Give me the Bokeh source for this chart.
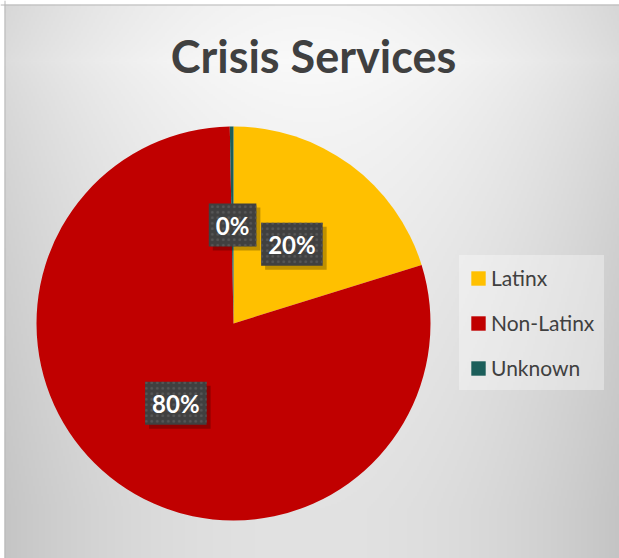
import numpy as np
from bokeh.plotting import figure
from bokeh.models import ColumnDataSource, Range1d, Label, Span
from bokeh.core.properties import value
from bokeh.embed import file_html
from bokeh.resources import INLINE

# ---- data ----
title = "Crisis Services"
categories = ["Latinx", "Non-Latinx", "Unknown"]
shares = [20.2, 79.5, 0.3]
colors = ["#FFC000", "#C00000", "#1B5E5A"]

# ---- layout (pixel based data space, y measured from the top via ry) ----
W, H = 619, 558
def ry(y):
    return H - y

CX, CY, R = 233, ry(323), 197

frac = np.array(shares) / np.sum(shares)
cum = np.cumsum(frac)
start = np.pi / 2 - 2 * np.pi * cum
end = np.pi / 2 - 2 * np.pi * (cum - frac)
mid = np.pi / 2 - 2 * np.pi * (cum - frac / 2)
labels = [f"{100 * f:.0f}%" for f in frac]

src = ColumnDataSource(dict(
    category=categories, color=colors, start=start, end=end,
    lx=CX + 0.5 * R * np.cos(mid), ly=CY + 0.5 * R * np.sin(mid), lab=labels,
))

p = figure(width=W, height=H, x_range=Range1d(0, W), y_range=Range1d(0, H),
           output_backend="svg", toolbar_location=None, min_border=0,
           background_fill_color="white", border_fill_color="white")
p.axis.visible = False
p.grid.visible = False
p.outline_line_color = None

# background gradient inside the chart frame (frame starts at x=4, y=4)
FX, FY = 4, 4
nx, ny = 308, 277
xs = np.linspace(FX, W, nx)
ys = np.linspace(0, ry(FY), ny)
XX, YY = np.meshgrid(xs, ys)
YR = H - YY
v = 250 - 26 * ((XX - 310) / 290) ** 2 - 24 * np.clip(np.abs(YR - 60) / 450, 0, 1) ** 0.7
v = np.clip(v, 0, 255).astype(np.uint8)
img = np.empty((ny, nx), dtype=np.uint32)
view = img.view(dtype=np.uint8).reshape((ny, nx, 4))
view[:, :, 0] = v
view[:, :, 1] = v
view[:, :, 2] = v
view[:, :, 3] = 255
p.image_rgba(image=[img], x=FX, y=0, dw=W - FX, dh=ry(FY))

p.add_layout(Span(location=FX + 0.5, dimension="height", line_color="#b8b8b8", line_width=1))
p.add_layout(Span(location=ry(FY + 0.5), dimension="width", line_color="#b8b8b8", line_width=1))

p.wedge(x=CX, y=CY, radius=R, start_angle="start", end_angle="end",
        direction="anticlock", fill_color="color", line_color=None,
        legend_field="category", source=src)

# data label shadows
p.text(x="lx", y="ly", text="lab", source=src, text_align="center", text_baseline="middle",
       text_font=value("Lato"), text_font_style="bold", text_font_size="24px",
       text_alpha=0, background_fill_color="black", background_fill_alpha=0.25,
       padding=7, x_offset=4, y_offset=4)
# data labels
p.text(x="lx", y="ly", text="lab", source=src, text_align="center", text_baseline="middle",
       text_font=value("Lato"), text_font_style="bold", text_font_size="24px",
       text_color="white", background_fill_color="#404040",
       background_hatch_pattern="dot", background_hatch_color="#575757",
       background_hatch_scale=5.5, background_hatch_weight=1.5, padding=7)

p.add_layout(Label(x=313, y=ry(55), text=title, text_align="center", text_baseline="middle",
                   text_font="Lato", text_font_style="bold", text_font_size="45px",
                   text_color="#404040"))

lg = p.legend[0]
lg.location = (459, 168)
lg.margin = 0
lg.padding = 10
lg.spacing = 20
lg.glyph_width = 18
lg.glyph_height = 18
lg.label_height = 22
lg.label_standoff = 4
lg.label_text_font = "Lato"
lg.label_text_font_size = "21px"
lg.label_text_color = "#404040"
lg.background_fill_color = "white"
lg.background_fill_alpha = 0.35
lg.border_line_color = "white"
lg.border_line_alpha = 0

open("out.html", "w").write(file_html(p, INLINE))
